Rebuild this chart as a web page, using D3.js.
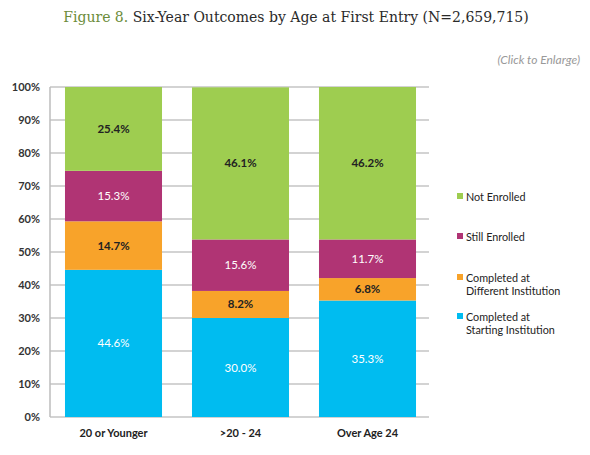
<!DOCTYPE html>
<html><head><meta charset="utf-8">
<script src="https://cdn.jsdelivr.net/npm/d3@7"></script>
<style>body{margin:0;background:#fff;}svg{display:block;}</style>
</head><body>
<svg id="c" width="590" height="455"></svg>
<script>
const categories = ["20 or Younger", ">20 - 24", "Over Age 24"];
const seriesNames = ["Completed at Starting Institution", "Completed at Different Institution", "Still Enrolled", "Not Enrolled"];
const startingInst = [44.6, 30.0, 35.3];
const differentInst = [14.7, 8.2, 6.8];
const stillEnrolled = [15.3, 15.6, 11.7];
const notEnrolled = [25.4, 46.1, 46.2];
const yTicks = [0, 10, 20, 30, 40, 50, 60, 70, 80, 90, 100];
const colors = ["#00bcf0", "#f8a32a", "#b03474", "#9ecd50"];
const labelColors = ["#ffffff", "#222222", "#ffffff", "#222222"];
const legendLines = [["Not Enrolled"], ["Still Enrolled"], ["Completed at", "Different Institution"], ["Completed at", "Starting Institution"]];

const seriesVals = [startingInst, differentInst, stillEnrolled, notEnrolled];
const rows = categories.map((c, i) => {
  const r = {cat: c};
  seriesNames.forEach((s, j) => r[s] = seriesVals[j][i]);
  return r;
});
const stack = d3.stack().keys(seriesNames)(rows);

const svg = d3.select("#c");
const x = d3.scaleBand().domain(categories).range([50, 431]).paddingInner(0.236).paddingOuter(0.118);
const y = d3.scaleLinear().domain([0, 100]).range([417, 87]);

// gridlines
svg.append("g").selectAll("line").data(yTicks).join("line")
  .attr("x1", 50).attr("x2", 429).attr("y1", d => y(d)).attr("y2", d => y(d))
  .attr("stroke", "#c4c4c4").attr("stroke-width", 1.5);
// axis line
svg.append("line").attr("x1", 50).attr("x2", 50).attr("y1", y(100)).attr("y2", y(0))
  .attr("stroke", "#bdbdbd").attr("stroke-width", 1.5);

// y labels
const yAxis = d3.axisLeft(y).tickValues(yTicks).tickFormat(d => d + "%").tickSize(0).tickPadding(10);
const ya = svg.append("g").attr("transform", "translate(50,0)").call(yAxis);
ya.select(".domain").remove();
ya.selectAll("text").attr("font-family", "Lato, 'Open Sans', sans-serif").attr("font-weight", "bold")
  .attr("font-size", 11).attr("fill", "#333");

// bars
stack.forEach((layer, j) => {
  const g = svg.append("g");
  g.selectAll("rect").data(layer).join("rect")
    .attr("x", d => x(d.data.cat)).attr("width", x.bandwidth())
    .attr("y", d => y(d[1])).attr("height", d => y(d[0]) - y(d[1]))
    .attr("fill", colors[j]);
  g.selectAll("text").data(layer).join("text")
    .attr("x", d => x(d.data.cat) + x.bandwidth() / 2)
    .attr("y", d => (y(d[0]) + y(d[1])) / 2 + 4)
    .attr("text-anchor", "middle")
    .attr("font-family", "Lato, 'Open Sans', sans-serif").attr("font-size", 11.5)
    .attr("font-weight", (j === 1 || j === 3) ? "bold" : "normal")
    .attr("fill", labelColors[j])
    .text(d => (d[1] - d[0]).toFixed(1) + "%");
});

// x labels
const xAxis = d3.axisBottom(x).tickSize(0).tickPadding(12);
const xa = svg.append("g").attr("transform", "translate(0,417)").call(xAxis);
xa.select(".domain").remove();
xa.selectAll("text").attr("font-family", "Lato, 'Open Sans', sans-serif").attr("font-weight", "bold")
  .attr("font-size", 11).attr("fill", "#222");

// legend
const legY = [201, 241, 282, 321];
const legColors = [colors[3], colors[2], colors[1], colors[0]];
legendLines.forEach((lines, i) => {
  svg.append("rect").attr("x", 457).attr("y", legY[i] - 8).attr("width", 6).attr("height", 6).attr("fill", legColors[i]);
  const t = svg.append("text").attr("x", 466).attr("y", legY[i])
    .attr("font-family", "Lato, 'Open Sans', sans-serif").attr("font-size", 10.8).attr("fill", "#222");
  lines.forEach((l, k) => t.append("tspan").attr("x", 466).attr("dy", k === 0 ? 0 : 12.5).text(l));
});

// title
const title = svg.append("text").attr("x", 296).attr("y", 22).attr("text-anchor", "middle")
  .attr("font-family", "'DejaVu Serif', serif").attr("font-size", 14).attr("fill", "#2a2a2a");
title.append("tspan").attr("fill", "#6b8c3a").text("Figure 8. ");
title.append("tspan").text("Six-Year Outcomes by Age at First Entry (N=2,659,715)");

svg.append("text").attr("x", 580).attr("y", 64).attr("text-anchor", "end")
  .attr("font-family", "Lato, 'Open Sans', sans-serif").attr("font-style", "italic").attr("font-size", 12)
  .attr("fill", "#999").text("(Click to Enlarge)");
</script>
</body></html>
